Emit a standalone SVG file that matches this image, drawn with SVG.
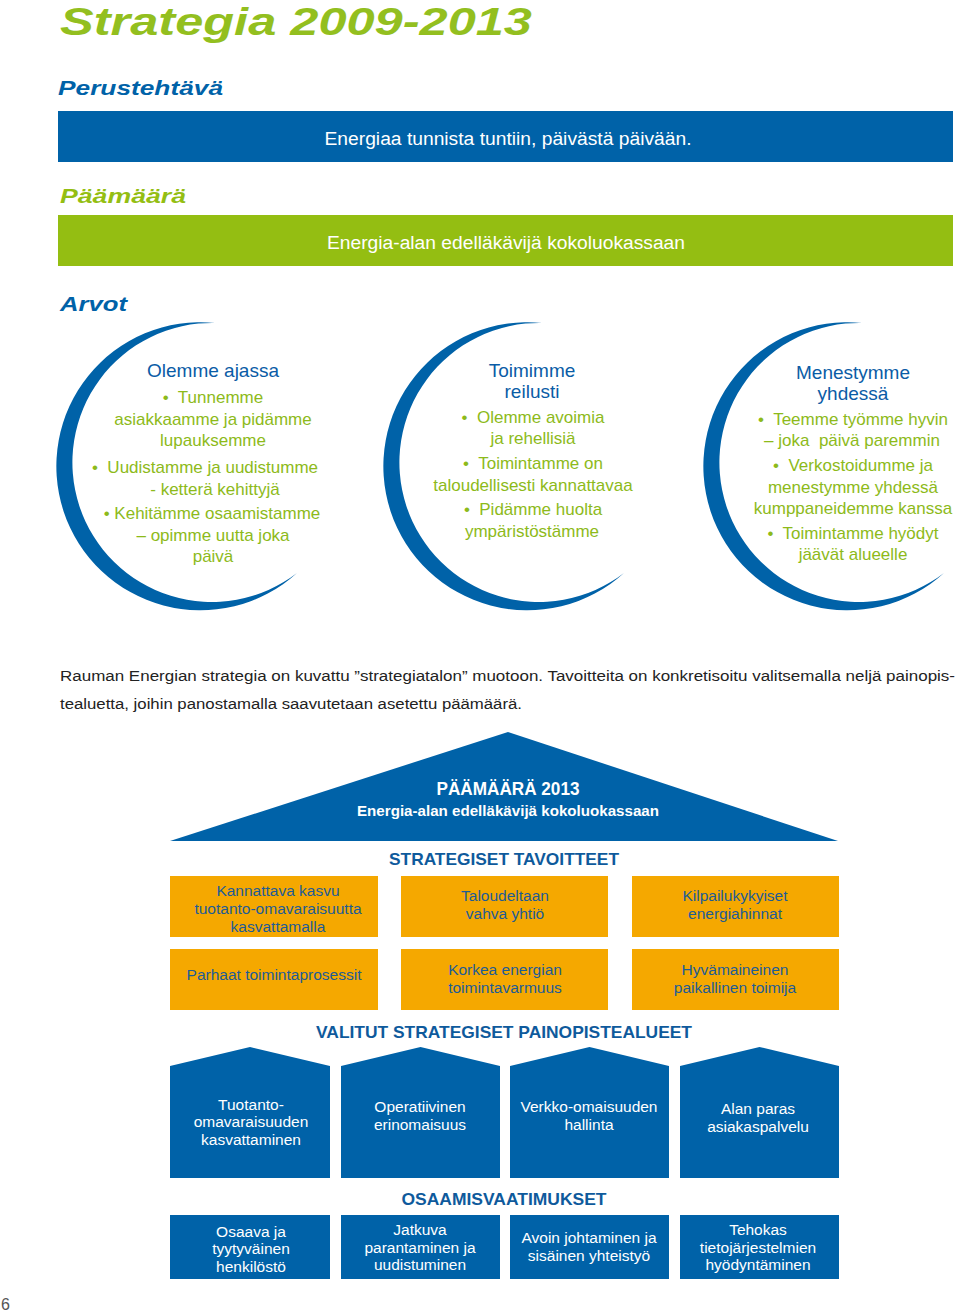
<svg xmlns="http://www.w3.org/2000/svg" width="960" height="1313" viewBox="0 0 960 1313">
<style>
text{font-family:"Liberation Sans",Arial,sans-serif;white-space:pre}
.h{font-weight:bold;font-style:italic}
.blue{fill:#0062A8}
.green{fill:#94BE12}
.wt{fill:#fff}
.ct{text-anchor:middle}
.vt{font-size:19px;fill:#0A5CA6;text-anchor:middle}
.gt{font-size:17px;fill:#8DBA1A;text-anchor:middle}
.ob{fill:#F5A800}
.ot{font-size:15.5px;fill:#1D5C96;text-anchor:middle}
.bt{font-size:15.5px;fill:#fff;text-anchor:middle}
.sh{font-size:17px;font-weight:bold;fill:#0E5A9C;text-anchor:middle}
</style>
<defs>
<path id="cres" d="M215,323 A144,144 0 1 0 297,573 A139.5,139.5 0 1 1 215,323 Z" fill="#0062A8"/>
</defs>
<rect width="960" height="1313" fill="#fff"/>

<text class="h green" x="60" y="35" font-size="39" textLength="472" lengthAdjust="spacingAndGlyphs" style="fill:#93BF1F">Strategia 2009-2013</text>

<text class="h blue" x="58" y="95" font-size="21" textLength="165" lengthAdjust="spacingAndGlyphs">Perustehtävä</text>
<g id="perustehtava">
<rect x="58" y="111" width="895" height="51" class="blue"/>
<text class="wt ct" x="508" y="145" font-size="18" textLength="367" lengthAdjust="spacingAndGlyphs">Energiaa tunnista tuntiin, päivästä päivään.</text>
</g>

<text class="h green" x="60" y="203" font-size="21" textLength="126" lengthAdjust="spacingAndGlyphs">Päämäärä</text>
<g id="paamaara">
<rect x="58" y="215" width="895" height="51" class="green"/>
<text class="wt ct" x="506" y="249" font-size="18" textLength="358" lengthAdjust="spacingAndGlyphs">Energia-alan edelläkävijä kokoluokassaan</text>
</g>

<text class="h blue" x="60" y="311" font-size="21" textLength="67" lengthAdjust="spacingAndGlyphs">Arvot</text>

<g id="arvo1">
<use href="#cres"/>
<text class="vt" x="213" y="377">Olemme ajassa</text>
<text class="gt" x="213" y="403">•  Tunnemme</text>
<text class="gt" x="213" y="425">asiakkaamme ja pidämme</text>
<text class="gt" x="213" y="446">lupauksemme</text>
<text class="gt" x="205" y="473">•  Uudistamme ja uudistumme</text>
<text class="gt" x="215" y="495">- ketterä kehittyjä</text>
<text class="gt" x="212" y="519">• Kehitämme osaamistamme</text>
<text class="gt" x="213" y="541">– opimme uutta joka</text>
<text class="gt" x="213" y="562">päivä</text>
</g>

<g id="arvo2">
<use href="#cres" transform="translate(327,0)"/>
<text class="vt" x="532" y="377">Toimimme</text>
<text class="vt" x="532" y="398">reilusti</text>
<text class="gt" x="533" y="423">•  Olemme avoimia</text>
<text class="gt" x="533" y="444">ja rehellisiä</text>
<text class="gt" x="533" y="469">•  Toimintamme on</text>
<text class="gt" x="533" y="491">taloudellisesti kannattavaa</text>
<text class="gt" x="533" y="515">•  Pidämme huolta</text>
<text class="gt" x="532" y="537">ympäristöstämme</text>
</g>

<g id="arvo3">
<use href="#cres" transform="translate(647,0)"/>
<text class="vt" x="853" y="379">Menestymme</text>
<text class="vt" x="853" y="400">yhdessä</text>
<text class="gt" x="853" y="425">•  Teemme työmme hyvin</text>
<text class="gt" x="852" y="446">– joka  päivä paremmin</text>
<text class="gt" x="853" y="471">•  Verkostoidumme ja</text>
<text class="gt" x="853" y="493">menestymme yhdessä</text>
<text class="gt" x="853" y="514">kumppaneidemme kanssa</text>
<text class="gt" x="853" y="539">•  Toimintamme hyödyt</text>
<text class="gt" x="853" y="560">jäävät alueelle</text>
</g>

<text x="60" y="681" font-size="15.5" fill="#222" textLength="895" lengthAdjust="spacingAndGlyphs">Rauman Energian strategia on kuvattu ”strategiatalon” muotoon. Tavoitteita on konkretisoitu valitsemalla neljä painopis-</text>
<text x="60" y="709" font-size="15.5" fill="#222" textLength="462" lengthAdjust="spacingAndGlyphs">tealuetta, joihin panostamalla saavutetaan asetettu päämäärä.</text>

<g id="katto">
<polygon points="508,732 838,841 170,841" class="blue"/>
<text class="wt ct" x="508" y="795" font-size="18" font-weight="bold" textLength="143" lengthAdjust="spacingAndGlyphs">PÄÄMÄÄRÄ 2013</text>
<text class="wt ct" x="508" y="816" font-size="15" font-weight="bold" textLength="302" lengthAdjust="spacingAndGlyphs">Energia-alan edelläkävijä kokoluokassaan</text>
</g>

<text class="sh" x="504" y="865" textLength="230" lengthAdjust="spacingAndGlyphs">STRATEGISET TAVOITTEET</text>

<g id="tavoite1"><rect class="ob" x="170" y="876" width="208" height="61"/>
<text class="ot" x="278" y="896">Kannattava kasvu</text>
<text class="ot" x="278" y="914">tuotanto-omavaraisuutta</text>
<text class="ot" x="278" y="932">kasvattamalla</text></g>
<g id="tavoite2"><rect class="ob" x="401" y="876" width="207" height="61"/>
<text class="ot" x="505" y="901">Taloudeltaan</text>
<text class="ot" x="505" y="919">vahva yhtiö</text></g>
<g id="tavoite3"><rect class="ob" x="632" y="876" width="207" height="61"/>
<text class="ot" x="735" y="901">Kilpailukykyiset</text>
<text class="ot" x="735" y="919">energiahinnat</text></g>
<g id="tavoite4"><rect class="ob" x="170" y="949" width="208" height="61"/>
<text class="ot" x="274" y="980">Parhaat toimintaprosessit</text></g>
<g id="tavoite5"><rect class="ob" x="401" y="949" width="207" height="61"/>
<text class="ot" x="505" y="975">Korkea energian</text>
<text class="ot" x="505" y="993">toimintavarmuus</text></g>
<g id="tavoite6"><rect class="ob" x="632" y="949" width="207" height="61"/>
<text class="ot" x="735" y="975">Hyvämaineinen</text>
<text class="ot" x="735" y="993">paikallinen toimija</text></g>

<text class="sh" x="504" y="1038" textLength="376" lengthAdjust="spacingAndGlyphs">VALITUT STRATEGISET PAINOPISTEALUEET</text>

<g id="painopiste1"><path class="blue" d="M170,1178 V1066 L250,1047 L330,1066 V1178 Z"/>
<text class="bt" x="251" y="1110">Tuotanto-</text>
<text class="bt" x="251" y="1127">omavaraisuuden</text>
<text class="bt" x="251" y="1145">kasvattaminen</text></g>
<g id="painopiste2"><path class="blue" d="M341,1178 V1066 L420.5,1047 L500,1066 V1178 Z"/>
<text class="bt" x="420" y="1112">Operatiivinen</text>
<text class="bt" x="420" y="1130">erinomaisuus</text></g>
<g id="painopiste3"><path class="blue" d="M510,1178 V1066 L589.5,1047 L669,1066 V1178 Z"/>
<text class="bt" x="589" y="1112">Verkko-omaisuuden</text>
<text class="bt" x="589" y="1130">hallinta</text></g>
<g id="painopiste4"><path class="blue" d="M680,1178 V1066 L759.5,1047 L839,1066 V1178 Z"/>
<text class="bt" x="758" y="1114">Alan paras</text>
<text class="bt" x="758" y="1132">asiakaspalvelu</text></g>

<text class="sh" x="504" y="1205" textLength="205" lengthAdjust="spacingAndGlyphs">OSAAMISVAATIMUKSET</text>

<g id="osaaminen1"><rect class="blue" x="170" y="1215" width="160" height="64"/>
<text class="bt" x="251" y="1237">Osaava ja</text>
<text class="bt" x="251" y="1254">tyytyväinen</text>
<text class="bt" x="251" y="1272">henkilöstö</text></g>
<g id="osaaminen2"><rect class="blue" x="341" y="1215" width="159" height="64"/>
<text class="bt" x="420" y="1235">Jatkuva</text>
<text class="bt" x="420" y="1253">parantaminen ja</text>
<text class="bt" x="420" y="1270">uudistuminen</text></g>
<g id="osaaminen3"><rect class="blue" x="510" y="1215" width="159" height="64"/>
<text class="bt" x="589" y="1243">Avoin johtaminen ja</text>
<text class="bt" x="589" y="1261">sisäinen yhteistyö</text></g>
<g id="osaaminen4"><rect class="blue" x="680" y="1215" width="159" height="64"/>
<text class="bt" x="758" y="1235">Tehokas</text>
<text class="bt" x="758" y="1253">tietojärjestelmien</text>
<text class="bt" x="758" y="1270">hyödyntäminen</text></g>

<text x="1" y="1310" font-size="16" fill="#555">6</text>
</svg>
